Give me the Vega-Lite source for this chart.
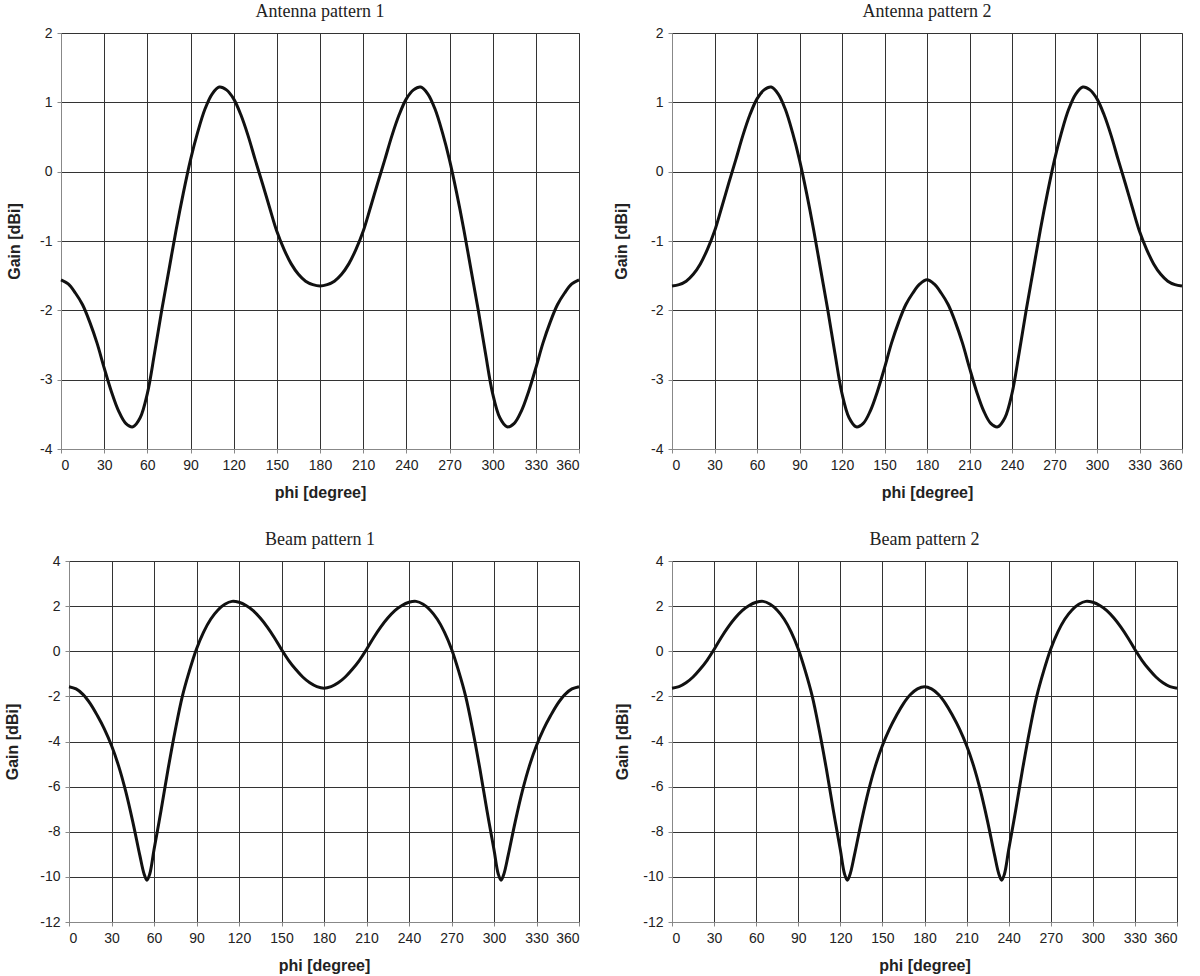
{
  "$schema": "https://vega.github.io/schema/vega-lite/v6.json",
  "padding": {"left": 4, "top": 2, "right": 0, "bottom": 0},
  "background": "white",
  "config": {
    "view": {"stroke": "#999", "strokeWidth": 1},
    "axis": {
      "labelFont": "Liberation Sans", "labelFontSize": 14, "labelColor": "#222",
      "titleFont": "Liberation Sans", "titleFontSize": 16, "titleFontWeight": "bold", "titleColor": "#222",
      "gridColor": "#333", "gridWidth": 1, "gridOpacity": 1,
      "domainColor": "#888", "tickColor": "#888", "tickSize": 4, "labelPadding": 5,
      "labelExpr": "datum.value + ''"
    },
    "axisX": {"titlePadding": 12},
    "axisY": {"titlePadding": 12},
    "title": {"font": "Liberation Serif", "fontSize": 18, "fontWeight": "normal", "color": "#222", "anchor": "middle", "offset": 5}
  },
  "datasets": {
    "a1": [
      {"phi":0,"gain":-1.56},{"phi":5,"gain":-1.62},{"phi":10,"gain":-1.75},{"phi":15,"gain":-1.92},{"phi":20,"gain":-2.17},{"phi":25,"gain":-2.47},{"phi":30,"gain":-2.83},{"phi":35,"gain":-3.17},{"phi":40,"gain":-3.45},{"phi":45,"gain":-3.63},{"phi":50,"gain":-3.68},{"phi":55,"gain":-3.55},{"phi":60,"gain":-3.2},{"phi":65,"gain":-2.62},{"phi":70,"gain":-2.0},{"phi":75,"gain":-1.42},{"phi":80,"gain":-0.84},{"phi":85,"gain":-0.31},{"phi":90,"gain":0.17},{"phi":95,"gain":0.57},{"phi":100,"gain":0.9},{"phi":105,"gain":1.12},{"phi":110,"gain":1.22},{"phi":115,"gain":1.18},{"phi":120,"gain":1.05},{"phi":125,"gain":0.82},{"phi":130,"gain":0.52},{"phi":135,"gain":0.17},{"phi":140,"gain":-0.17},{"phi":145,"gain":-0.52},{"phi":150,"gain":-0.86},{"phi":155,"gain":-1.12},{"phi":160,"gain":-1.33},{"phi":165,"gain":-1.48},{"phi":170,"gain":-1.58},{"phi":175,"gain":-1.63},{"phi":180,"gain":-1.65},
      {"phi":185,"gain":-1.63},{"phi":190,"gain":-1.58},{"phi":195,"gain":-1.48},{"phi":200,"gain":-1.33},{"phi":205,"gain":-1.12},{"phi":210,"gain":-0.86},{"phi":215,"gain":-0.52},{"phi":220,"gain":-0.17},{"phi":225,"gain":0.17},{"phi":230,"gain":0.52},{"phi":235,"gain":0.82},{"phi":240,"gain":1.05},{"phi":245,"gain":1.18},{"phi":250,"gain":1.22},{"phi":255,"gain":1.12},{"phi":260,"gain":0.9},{"phi":265,"gain":0.57},{"phi":270,"gain":0.17},{"phi":275,"gain":-0.31},{"phi":280,"gain":-0.84},{"phi":285,"gain":-1.42},{"phi":290,"gain":-2.0},{"phi":295,"gain":-2.62},{"phi":300,"gain":-3.2},{"phi":305,"gain":-3.55},{"phi":310,"gain":-3.68},{"phi":315,"gain":-3.63},{"phi":320,"gain":-3.45},{"phi":325,"gain":-3.17},{"phi":330,"gain":-2.83},{"phi":335,"gain":-2.47},{"phi":340,"gain":-2.17},{"phi":345,"gain":-1.92},{"phi":350,"gain":-1.75},{"phi":355,"gain":-1.62},{"phi":360,"gain":-1.56}
    ],
    "a2": [
      {"phi":0,"gain":-1.65},{"phi":5,"gain":-1.63},{"phi":10,"gain":-1.58},{"phi":15,"gain":-1.48},{"phi":20,"gain":-1.33},{"phi":25,"gain":-1.12},{"phi":30,"gain":-0.86},{"phi":35,"gain":-0.52},{"phi":40,"gain":-0.17},{"phi":45,"gain":0.17},{"phi":50,"gain":0.52},{"phi":55,"gain":0.82},{"phi":60,"gain":1.05},{"phi":65,"gain":1.18},{"phi":70,"gain":1.22},{"phi":75,"gain":1.12},{"phi":80,"gain":0.9},{"phi":85,"gain":0.57},{"phi":90,"gain":0.17},{"phi":95,"gain":-0.31},{"phi":100,"gain":-0.84},{"phi":105,"gain":-1.42},{"phi":110,"gain":-2.0},{"phi":115,"gain":-2.62},{"phi":120,"gain":-3.2},{"phi":125,"gain":-3.55},{"phi":130,"gain":-3.68},{"phi":135,"gain":-3.63},{"phi":140,"gain":-3.45},{"phi":145,"gain":-3.17},{"phi":150,"gain":-2.83},{"phi":155,"gain":-2.47},{"phi":160,"gain":-2.17},{"phi":165,"gain":-1.92},{"phi":170,"gain":-1.75},{"phi":175,"gain":-1.62},{"phi":180,"gain":-1.56},
      {"phi":185,"gain":-1.62},{"phi":190,"gain":-1.75},{"phi":195,"gain":-1.92},{"phi":200,"gain":-2.17},{"phi":205,"gain":-2.47},{"phi":210,"gain":-2.83},{"phi":215,"gain":-3.17},{"phi":220,"gain":-3.45},{"phi":225,"gain":-3.63},{"phi":230,"gain":-3.68},{"phi":235,"gain":-3.55},{"phi":240,"gain":-3.2},{"phi":245,"gain":-2.62},{"phi":250,"gain":-2.0},{"phi":255,"gain":-1.42},{"phi":260,"gain":-0.84},{"phi":265,"gain":-0.31},{"phi":270,"gain":0.17},{"phi":275,"gain":0.57},{"phi":280,"gain":0.9},{"phi":285,"gain":1.12},{"phi":290,"gain":1.22},{"phi":295,"gain":1.18},{"phi":300,"gain":1.05},{"phi":305,"gain":0.82},{"phi":310,"gain":0.52},{"phi":315,"gain":0.17},{"phi":320,"gain":-0.17},{"phi":325,"gain":-0.52},{"phi":330,"gain":-0.86},{"phi":335,"gain":-1.12},{"phi":340,"gain":-1.33},{"phi":345,"gain":-1.48},{"phi":350,"gain":-1.58},{"phi":355,"gain":-1.63},{"phi":360,"gain":-1.65}
    ],
    "b1": [
      {"phi":0,"gain":-1.57},{"phi":5,"gain":-1.67},{"phi":10,"gain":-1.92},{"phi":15,"gain":-2.32},{"phi":20,"gain":-2.85},{"phi":25,"gain":-3.45},{"phi":30,"gain":-4.18},{"phi":35,"gain":-5.08},{"phi":40,"gain":-6.2},{"phi":45,"gain":-7.55},{"phi":50,"gain":-9.05},{"phi":53,"gain":-9.87},{"phi":55,"gain":-10.15},{"phi":57,"gain":-9.87},{"phi":60,"gain":-8.8},{"phi":65,"gain":-7.05},{"phi":70,"gain":-5.2},{"phi":75,"gain":-3.5},{"phi":80,"gain":-2.0},{"phi":85,"gain":-0.87},{"phi":90,"gain":0.1},{"phi":95,"gain":0.85},{"phi":100,"gain":1.42},{"phi":105,"gain":1.82},{"phi":110,"gain":2.08},{"phi":115,"gain":2.21},{"phi":120,"gain":2.17},{"phi":125,"gain":2.03},{"phi":130,"gain":1.8},{"phi":135,"gain":1.47},{"phi":140,"gain":1.07},{"phi":145,"gain":0.6},{"phi":150,"gain":0.08},{"phi":155,"gain":-0.4},{"phi":160,"gain":-0.8},{"phi":165,"gain":-1.14},{"phi":170,"gain":-1.4},{"phi":175,"gain":-1.57},{"phi":180,"gain":-1.64},
      {"phi":185,"gain":-1.57},{"phi":190,"gain":-1.4},{"phi":195,"gain":-1.14},{"phi":200,"gain":-0.8},{"phi":205,"gain":-0.4},{"phi":210,"gain":0.08},{"phi":215,"gain":0.6},{"phi":220,"gain":1.07},{"phi":225,"gain":1.47},{"phi":230,"gain":1.8},{"phi":235,"gain":2.03},{"phi":240,"gain":2.17},{"phi":245,"gain":2.21},{"phi":250,"gain":2.08},{"phi":255,"gain":1.82},{"phi":260,"gain":1.42},{"phi":265,"gain":0.85},{"phi":270,"gain":0.1},{"phi":275,"gain":-0.87},{"phi":280,"gain":-2.0},{"phi":285,"gain":-3.5},{"phi":290,"gain":-5.2},{"phi":295,"gain":-7.05},{"phi":300,"gain":-8.8},{"phi":303,"gain":-9.87},{"phi":305,"gain":-10.15},{"phi":307,"gain":-9.87},{"phi":310,"gain":-9.05},{"phi":315,"gain":-7.55},{"phi":320,"gain":-6.2},{"phi":325,"gain":-5.08},{"phi":330,"gain":-4.18},{"phi":335,"gain":-3.45},{"phi":340,"gain":-2.85},{"phi":345,"gain":-2.32},{"phi":350,"gain":-1.92},{"phi":355,"gain":-1.67},{"phi":360,"gain":-1.57}
    ],
    "b2": [
      {"phi":0,"gain":-1.64},{"phi":5,"gain":-1.57},{"phi":10,"gain":-1.4},{"phi":15,"gain":-1.14},{"phi":20,"gain":-0.8},{"phi":25,"gain":-0.4},{"phi":30,"gain":0.08},{"phi":35,"gain":0.6},{"phi":40,"gain":1.07},{"phi":45,"gain":1.47},{"phi":50,"gain":1.8},{"phi":55,"gain":2.03},{"phi":60,"gain":2.17},{"phi":65,"gain":2.21},{"phi":70,"gain":2.08},{"phi":75,"gain":1.82},{"phi":80,"gain":1.42},{"phi":85,"gain":0.85},{"phi":90,"gain":0.1},{"phi":95,"gain":-0.87},{"phi":100,"gain":-2.0},{"phi":105,"gain":-3.5},{"phi":110,"gain":-5.2},{"phi":115,"gain":-7.05},{"phi":120,"gain":-8.8},{"phi":123,"gain":-9.87},{"phi":125,"gain":-10.15},{"phi":127,"gain":-9.87},{"phi":130,"gain":-9.05},{"phi":135,"gain":-7.55},{"phi":140,"gain":-6.2},{"phi":145,"gain":-5.08},{"phi":150,"gain":-4.18},{"phi":155,"gain":-3.45},{"phi":160,"gain":-2.85},{"phi":165,"gain":-2.32},{"phi":170,"gain":-1.92},{"phi":175,"gain":-1.67},{"phi":180,"gain":-1.57},
      {"phi":185,"gain":-1.67},{"phi":190,"gain":-1.92},{"phi":195,"gain":-2.32},{"phi":200,"gain":-2.85},{"phi":205,"gain":-3.45},{"phi":210,"gain":-4.18},{"phi":215,"gain":-5.08},{"phi":220,"gain":-6.2},{"phi":225,"gain":-7.55},{"phi":230,"gain":-9.05},{"phi":233,"gain":-9.87},{"phi":235,"gain":-10.15},{"phi":237,"gain":-9.87},{"phi":240,"gain":-8.8},{"phi":245,"gain":-7.05},{"phi":250,"gain":-5.2},{"phi":255,"gain":-3.5},{"phi":260,"gain":-2.0},{"phi":265,"gain":-0.87},{"phi":270,"gain":0.1},{"phi":275,"gain":0.85},{"phi":280,"gain":1.42},{"phi":285,"gain":1.82},{"phi":290,"gain":2.08},{"phi":295,"gain":2.21},{"phi":300,"gain":2.17},{"phi":305,"gain":2.03},{"phi":310,"gain":1.8},{"phi":315,"gain":1.47},{"phi":320,"gain":1.07},{"phi":325,"gain":0.6},{"phi":330,"gain":0.08},{"phi":335,"gain":-0.4},{"phi":340,"gain":-0.8},{"phi":345,"gain":-1.14},{"phi":350,"gain":-1.4},{"phi":355,"gain":-1.57},{"phi":360,"gain":-1.64}
    ]
  },
  "columns": 2,
  "spacing": {"row": 29, "column": 27},
  "concat": [
    {
      "title": "Antenna pattern 1",
      "width": 518, "height": 416,
      "data": {"name": "a1"},
      "mark": {"type": "line", "interpolate": "catmull-rom", "color": "#111", "strokeWidth": 3},
      "encoding": {
        "x": {"field": "phi", "type": "quantitative", "scale": {"domain": [0, 360], "nice": false}, "axis": {"values": [0,30,60,90,120,150,180,210,240,270,300,330,360], "title": "phi [degree]"}},
        "y": {"field": "gain", "type": "quantitative", "scale": {"domain": [-4, 2], "nice": false}, "axis": {"values": [-4,-3,-2,-1,0,1,2], "title": "Gain [dBi]", "titlePadding": 17}}
      }
    },
    {
      "title": "Antenna pattern 2",
      "width": 510, "height": 416,
      "data": {"name": "a2"},
      "mark": {"type": "line", "interpolate": "catmull-rom", "color": "#111", "strokeWidth": 3},
      "encoding": {
        "x": {"field": "phi", "type": "quantitative", "scale": {"domain": [0, 360], "nice": false}, "axis": {"values": [0,30,60,90,120,150,180,210,240,270,300,330,360], "title": "phi [degree]"}},
        "y": {"field": "gain", "type": "quantitative", "scale": {"domain": [-4, 2], "nice": false}, "axis": {"values": [-4,-3,-2,-1,0,1,2], "title": "Gain [dBi]", "titlePadding": 21}}
      }
    },
    {
      "title": "Beam pattern 1",
      "width": 518, "height": 361,
      "view": {"stroke": null},
      "data": {"name": "b1"},
      "mark": {"type": "line", "interpolate": "catmull-rom", "color": "#111", "strokeWidth": 3},
      "encoding": {
        "x": {"field": "phi", "type": "quantitative", "scale": {"domain": [0, 360], "nice": false, "range": [8, 518]}, "axis": {"values": [0,30,60,90,120,150,180,210,240,270,300,330,360], "title": "phi [degree]"}},
        "y": {"field": "gain", "type": "quantitative", "scale": {"domain": [-12, 4], "nice": false}, "axis": {"values": [-12,-10,-8,-6,-4,-2,0,2,4], "title": "Gain [dBi]", "titlePadding": 19, "offset": -8}}
      }
    },
    {
      "title": "Beam pattern 2",
      "width": 505, "height": 361,
      "data": {"name": "b2"},
      "mark": {"type": "line", "interpolate": "catmull-rom", "color": "#111", "strokeWidth": 3},
      "encoding": {
        "x": {"field": "phi", "type": "quantitative", "scale": {"domain": [0, 360], "nice": false}, "axis": {"values": [0,30,60,90,120,150,180,210,240,270,300,330,360], "title": "phi [degree]"}},
        "y": {"field": "gain", "type": "quantitative", "scale": {"domain": [-12, 4], "nice": false}, "axis": {"values": [-12,-10,-8,-6,-4,-2,0,2,4], "title": "Gain [dBi]", "titlePadding": 12}}
      }
    }
  ]
}
